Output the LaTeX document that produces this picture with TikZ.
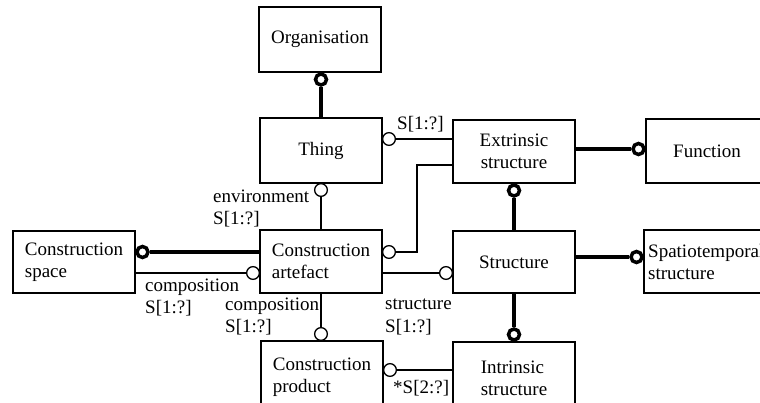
\documentclass[tikz,border=0pt]{standalone}
\usepackage{fontspec}
\setmainfont{Liberation Serif}
\tikzset{
  txt/.style={font=\fontsize{19}{22}\selectfont},
  box/.style={draw, line width=1.3pt, minimum width=122pt, inner sep=0pt, align=left, txt},
  lbl/.style={inner sep=0pt, align=left, txt},
  thinline/.style={line width=1.3pt},
  thickline/.style={line width=4pt},
  thincirc/.style={circle, draw, fill=white, line width=1.3pt, minimum size=12.7pt, inner sep=0pt},
  thickcirc/.style={circle, draw, fill=white, line width=3.5pt, minimum size=11pt, inner sep=0pt},
}
\begin{document}
\begin{tikzpicture}[x=1pt, y=-1pt]
\useasboundingbox (0,0) rectangle (760,403);
\clip (0,0) rectangle (760,403);
% boxes
\node[box, minimum height=65pt] (org) at (320,39.5) {Organisation};
\node[box, minimum height=65pt] (thing) at (321,150.5) {Thing};
\node[box, minimum height=63pt, align=center] (ext) at (514,151.5) {Extrinsic\\structure};
\node[box, minimum height=64pt] (func) at (707,151) {Function};
\node[box, minimum height=62pt] (cspace) at (74,262) {Construction\\space};
\node[box, minimum height=63pt] (art) at (321,261.5) {Construction\\artefact};
\node[box, minimum height=62pt] (struct) at (514,262) {Structure};
\node[box, minimum height=63pt] (spatio) at (705,261.5) {};
\node[lbl, anchor=west] (spatiotxt) at (648,262) {Spatiotemporal\\structure};
\node[box, minimum height=72pt] (prod) at (322,377) {Construction\\product};
\node[box, minimum height=72pt] (intr) at (514,378) {Intrinsic\\structure};
% circles
\node[thickcirc] (k1) at (321,79.5) {};
\node[thincirc] (t1) at (389,139) {};
\node[thincirc] (t2) at (389,252) {};
\node[thincirc] (t3) at (321,190) {};
\node[thickcirc] (k2) at (142.5,252) {};
\node[thincirc] (t4) at (253,273) {};
\node[thincirc] (t5) at (446,273) {};
\node[thincirc] (t6) at (321,334) {};
\node[thickcirc] (k3) at (514,334.5) {};
\node[thincirc] (t7) at (390,370) {};
\node[thickcirc] (k4) at (514,190.5) {};
\node[thickcirc] (k5) at (638.5,149) {};
\node[thickcirc] (k6) at (636.5,257) {};
\coordinate (b1) at (417,165);
% connectors
\draw[thickline] (k1) -- (thing.north -| k1);
\draw[thinline] (t1) -- (ext.west |- t1);
\draw[thinline] (t2) -| (b1) -- (ext.west |- b1);
\draw[thinline] (t3) -- (art.north -| t3);
\draw[thickline] (k2) -- (art.west |- k2);
\draw[thinline] (cspace.east |- t4) -- (t4);
\draw[thinline] (art.east |- t5) -- (t5);
\draw[thinline] (art.south -| t6) -- (t6);
\draw[thickline] (struct.south -| k3) -- (k3);
\draw[thinline] (t7) -- (intr.west |- t7);
\draw[thickline] (k4) -- (struct.north -| k4);
\draw[thickline] (ext.east |- k5) -- (k5);
\draw[thickline] (struct.east |- k6) -- (k6);
% labels
\node[lbl, anchor=base west] (l1) at (397,130) {S[1:?]};
\node[lbl, anchor=base west] (l2) at (213,203) {environment};
\node[lbl, anchor=base west] (l3) at (213,225) {S[1:?]};
\node[lbl, anchor=base west] (l4) at (145,291) {composition};
\node[lbl, anchor=base west] (l5) at (145,313) {S[1:?]};
\node[lbl, anchor=base west] (l6) at (225,310) {composition};
\node[lbl, anchor=base west] (l7) at (225,332) {S[1:?]};
\node[lbl, anchor=base west] (l8) at (385,309) {structure};
\node[lbl, anchor=base west] (l9) at (385,332) {S[1:?]};
\node[lbl, anchor=base west] (l10) at (393,393) {*S[2:?]};
\end{tikzpicture}
\end{document}
